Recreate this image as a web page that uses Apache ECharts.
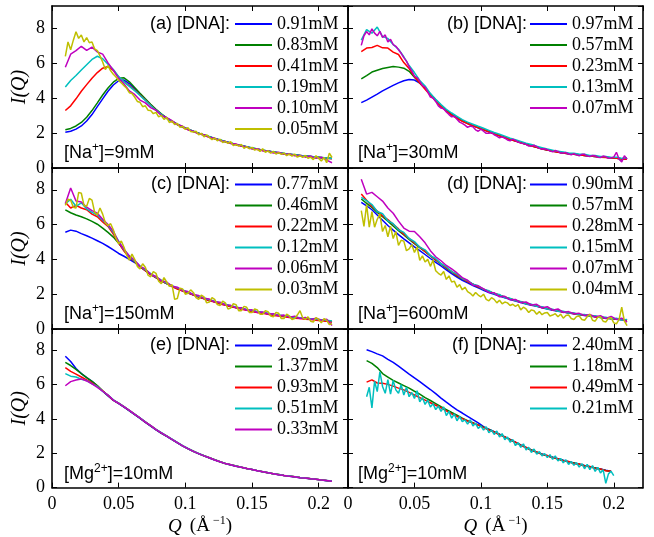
<!DOCTYPE html>
<html><head><meta charset="utf-8">
<script src="https://cdn.jsdelivr.net/npm/echarts@6/dist/echarts.min.js"></script>
<style>html,body{margin:0;padding:0;background:#fff}#c{width:654px;height:537px}</style>
</head><body><div id="c"></div>
<script>
// Q grids (1/Å): coarse grid for smooth curves, fine grid for the noisiest curves
const Q = [0.010,0.014,0.018,0.022,0.026,0.030,0.034,0.038,0.042,0.046,
0.050,0.054,0.058,0.062,0.066,0.070,0.074,0.078,0.082,0.086,
0.090,0.094,0.098,0.102,0.106,0.110,0.114,0.118,0.122,0.126,
0.130,0.134,0.138,0.142,0.146,0.150,0.154,0.158,0.162,0.166,
0.170,0.174,0.178,0.182,0.186,0.190,0.194,0.198,0.202,0.206,0.210];
const Qf = [0.010,0.012,0.014,0.016,0.018,0.020,0.022,0.024,0.026,0.028,
0.030,0.032,0.034,0.036,0.038,0.040,0.042,0.044,0.046,0.048,
0.050,0.052,0.054,0.056,0.058,0.060,0.062,0.064,0.066,0.068,
0.070,0.072,0.074,0.076,0.078,0.080,0.082,0.084,0.086,0.088,
0.090,0.092,0.094,0.096,0.098,0.100,0.102,0.104,0.106,0.108,
0.110,0.112,0.114,0.116,0.118,0.120,0.122,0.124,0.126,0.128,
0.130,0.132,0.134,0.136,0.138,0.140,0.142,0.144,0.146,0.148,
0.150,0.152,0.154,0.156,0.158,0.160,0.162,0.164,0.166,0.168,
0.170,0.172,0.174,0.176,0.178,0.180,0.182,0.184,0.186,0.188,
0.190,0.192,0.194,0.196,0.198,0.200,0.202,0.204,0.206,0.208,0.210];

// ---- panel (a) [Na+]=9mM
const aNames = ['0.91mM','0.83mM','0.41mM','0.19mM','0.10mM','0.05mM'];
const aBlue = [2.04,2.10,2.22,2.40,2.68,3.05,3.50,3.95,4.38,4.74,
4.98,5.02,4.82,4.52,4.20,3.90,3.60,3.32,3.07,2.85,
2.66,2.49,2.34,2.21,2.09,1.98,1.88,1.78,1.68,1.59,
1.50,1.42,1.34,1.27,1.20,1.13,1.07,1.01,0.96,0.91,
0.86,0.82,0.78,0.74,0.71,0.68,0.65,0.62,0.59,0.56,0.54];
const aGreen = [2.19,2.26,2.40,2.60,2.90,3.28,3.72,4.17,4.57,4.90,
5.12,5.15,4.92,4.60,4.27,3.95,3.64,3.35,3.09,2.86,
2.67,2.50,2.35,2.22,2.10,1.99,1.89,1.79,1.69,1.60,
1.51,1.43,1.35,1.28,1.21,1.14,1.08,1.02,0.97,0.92,
0.87,0.83,0.79,0.75,0.72,0.69,0.66,0.63,0.60,0.57,0.55];
const aRed = [3.28,3.55,3.95,4.38,4.76,5.13,5.45,5.70,5.80,5.58,
5.20,4.92,4.70,4.45,4.17,3.88,3.58,3.30,3.05,2.83,
2.64,2.48,2.33,2.20,2.08,1.97,1.87,1.76,1.67,1.58,
1.49,1.41,1.33,1.26,1.19,1.12,1.06,1.00,0.95,0.90,
0.85,0.81,0.77,0.73,0.70,0.67,0.64,0.61,0.58,0.55,0.53];
const aCyan = [4.63,5.00,5.28,5.60,5.90,6.20,6.38,6.24,5.92,5.62,
5.22,4.92,4.66,4.42,4.14,3.86,3.57,3.30,3.06,2.84,
2.66,2.50,2.35,2.22,2.10,1.98,1.88,1.79,1.69,1.60,
1.51,1.43,1.35,1.28,1.21,1.14,1.08,1.02,0.97,0.92,
0.87,0.83,0.79,0.76,0.72,0.69,0.66,0.63,0.60,0.57,0.54];
const aMagenta = [5.75,6.50,6.70,6.95,6.72,6.90,6.62,6.50,6.00,5.58,
5.12,4.80,4.40,4.20,3.88,3.72,3.45,3.30,3.00,2.88,
2.70,2.48,2.38,2.18,2.10,1.95,1.90,1.75,1.70,1.56,
1.52,1.40,1.38,1.25,1.22,1.08,1.10,0.98,0.97,0.86,
0.90,0.78,0.80,0.70,0.72,0.62,0.68,0.55,0.62,0.45,0.30];
const aYellowF = [6.38,7.20,6.75,7.30,7.78,7.40,7.60,7.20,7.45,7.15,
7.20,6.80,6.70,6.40,6.05,5.62,5.85,5.55,5.35,5.20,
5.00,4.85,4.70,4.55,4.30,4.25,4.05,3.80,3.75,3.50,
3.55,3.30,3.28,3.10,3.18,2.92,3.00,2.78,2.88,2.60,
2.68,2.48,2.55,2.32,2.38,2.20,2.30,2.08,2.05,2.10,
1.90,1.98,1.78,1.90,1.75,1.62,1.72,1.55,1.65,1.45,
1.52,1.40,1.50,1.28,1.35,1.25,1.35,1.12,1.22,1.10,
1.18,1.02,1.08,0.95,1.10,0.90,0.98,0.85,0.95,0.80,
0.88,0.78,0.85,0.70,0.80,0.68,0.80,0.62,0.70,0.60,
0.72,0.55,0.62,0.48,0.70,0.55,0.40,0.60,0.30,0.85,0.60];

// ---- panel (b) [Na+]=30mM
const bNames = ['0.97mM','0.57mM','0.23mM','0.13mM','0.07mM'];
const bBlue = [3.73,3.88,4.05,4.22,4.40,4.56,4.72,4.86,4.98,5.05,
5.02,4.85,4.55,4.22,3.88,3.57,3.30,3.07,2.88,2.70,
2.55,2.42,2.30,2.19,2.07,1.96,1.85,1.74,1.64,1.54,
1.45,1.36,1.27,1.18,1.10,1.03,0.97,0.91,0.86,0.82,
0.79,0.76,0.72,0.69,0.66,0.63,0.61,0.58,0.56,0.53,0.51];
const bGreen = [5.09,5.28,5.48,5.58,5.68,5.74,5.79,5.76,5.70,5.52,
5.18,4.85,4.55,4.22,3.88,3.56,3.28,3.05,2.86,2.69,
2.55,2.42,2.31,2.19,2.08,1.96,1.85,1.75,1.64,1.55,
1.45,1.36,1.27,1.19,1.10,1.03,0.97,0.91,0.86,0.82,
0.79,0.76,0.72,0.69,0.66,0.64,0.61,0.58,0.56,0.53,0.51];
const bRed = [6.65,6.85,6.88,7.00,6.86,6.85,6.62,6.48,6.02,5.68,
5.22,4.85,4.50,4.15,3.82,3.52,3.25,3.02,2.84,2.67,
2.53,2.41,2.29,2.18,2.06,1.95,1.84,1.74,1.63,1.54,
1.44,1.35,1.26,1.18,1.09,1.02,0.96,0.90,0.85,0.81,
0.78,0.75,0.71,0.68,0.65,0.62,0.60,0.57,0.55,0.52,0.50];
const bCyan = [7.30,7.90,7.70,8.05,7.50,7.40,7.05,6.78,6.35,5.85,
5.45,5.00,4.68,4.25,3.92,3.62,3.35,3.14,2.95,2.76,
2.62,2.50,2.38,2.27,2.15,2.03,1.93,1.82,1.70,1.62,
1.52,1.42,1.34,1.24,1.16,1.08,1.02,0.95,0.92,0.86,
0.84,0.79,0.78,0.72,0.71,0.66,0.66,0.60,0.62,0.55,0.58];
const bMagentaF = [7.00,7.55,7.79,7.60,7.95,7.70,7.55,7.80,7.45,7.60,
7.20,7.35,7.05,6.95,6.75,6.55,6.30,6.10,5.78,5.55,
5.25,5.15,4.95,4.70,4.62,4.35,4.05,4.00,3.80,3.55,
3.42,3.38,3.20,3.05,2.92,2.95,2.78,2.62,2.55,2.45,
2.32,2.40,2.35,2.18,2.10,2.22,2.10,1.98,1.98,2.02,
1.90,1.82,1.72,1.78,1.70,1.60,1.55,1.65,1.58,1.48,
1.42,1.40,1.35,1.25,1.25,1.30,1.22,1.12,1.08,1.10,
1.05,0.98,0.92,1.00,0.95,0.85,0.85,0.88,0.80,0.76,
0.82,0.75,0.70,0.78,0.78,0.68,0.66,0.72,0.70,0.62,
0.60,0.68,0.65,0.55,0.58,0.62,0.90,0.50,0.35,0.70,0.50];

// ---- panel (c) [Na+]=150mM
const cNames = ['0.77mM','0.46mM','0.22mM','0.12mM','0.06mM','0.03mM'];
const cBlue = [5.56,5.68,5.62,5.48,5.36,5.22,5.07,4.92,4.74,4.55,
4.34,4.18,4.00,3.82,3.58,3.36,3.14,2.95,2.77,2.61,
2.46,2.32,2.20,2.08,1.96,1.85,1.75,1.65,1.56,1.47,
1.39,1.31,1.24,1.17,1.10,1.04,0.98,0.93,0.88,0.83,
0.78,0.74,0.70,0.66,0.63,0.60,0.57,0.54,0.51,0.47,0.42];
const cGreen = [6.84,6.68,6.55,6.45,6.33,6.18,6.02,5.80,5.55,5.28,
4.92,4.52,4.15,3.86,3.60,3.37,3.15,2.95,2.77,2.61,
2.46,2.32,2.20,2.08,1.96,1.85,1.75,1.65,1.56,1.47,
1.39,1.31,1.24,1.17,1.10,1.04,0.98,0.93,0.88,0.83,
0.78,0.74,0.70,0.66,0.63,0.60,0.57,0.54,0.51,0.47,0.43];
const cRed = [7.28,6.95,7.10,6.95,6.85,6.60,6.45,6.15,5.90,5.45,
4.95,4.48,4.10,3.88,3.58,3.35,3.12,2.95,2.74,2.62,
2.44,2.30,2.18,2.06,1.95,1.83,1.74,1.62,1.55,1.44,
1.37,1.28,1.22,1.14,1.08,1.00,0.95,0.90,0.84,0.78,
0.74,0.70,0.66,0.62,0.60,0.56,0.54,0.50,0.48,0.45,0.40];
const cCyan = [7.20,7.45,7.05,7.25,6.90,6.70,6.55,6.25,5.95,5.55,
5.05,4.55,4.18,3.90,3.62,3.40,3.18,2.98,2.80,2.64,
2.49,2.36,2.24,2.11,1.99,1.88,1.78,1.68,1.59,1.50,
1.42,1.34,1.26,1.19,1.12,1.06,1.00,0.95,0.90,0.85,
0.80,0.76,0.72,0.68,0.65,0.62,0.59,0.56,0.53,0.50,0.46];
const cMagenta = [7.20,8.10,7.35,7.30,7.00,6.80,6.65,6.30,6.00,5.62,
5.00,4.58,4.20,3.95,3.60,3.45,3.15,3.02,2.78,2.70,
2.46,2.40,2.20,2.15,1.98,1.92,1.76,1.72,1.56,1.54,
1.38,1.36,1.22,1.22,1.08,1.10,0.95,0.98,0.86,0.88,
0.76,0.80,0.68,0.74,0.60,0.66,0.55,0.62,0.50,0.56,0.20];
const cYellowF = [7.10,7.45,7.40,7.00,6.95,7.85,7.80,7.10,7.05,7.50,
7.40,6.70,6.55,6.95,6.60,6.10,5.95,6.05,5.70,5.20,
4.90,5.05,4.70,4.25,3.95,4.30,4.00,3.60,3.45,3.75,
3.55,3.10,3.00,3.30,3.20,2.75,2.60,2.95,2.70,2.45,
2.55,1.70,1.75,2.35,2.30,2.00,2.05,2.25,2.10,1.80,
1.70,1.95,1.85,1.50,1.55,1.80,1.70,1.40,1.35,1.60,
1.50,1.15,1.20,1.45,1.40,1.05,1.05,1.30,1.25,0.95,
0.95,1.15,1.10,0.85,0.85,1.05,1.00,0.75,0.70,0.95,
0.90,0.60,0.60,0.85,0.75,0.55,0.60,0.80,1.05,0.65,
0.55,0.70,0.45,0.40,0.65,0.55,0.35,0.60,0.50,0.25,0.30];

// ---- panel (d) [Na+]=600mM
const dNames = ['0.90mM','0.57mM','0.28mM','0.15mM','0.07mM','0.04mM'];
const dBlue = [7.28,7.08,6.85,6.55,6.25,5.95,5.68,5.42,5.18,4.95,
4.72,4.50,4.28,4.05,3.83,3.62,3.40,3.18,2.98,2.80,
2.65,2.50,2.36,2.23,2.10,2.00,1.90,1.80,1.70,1.61,
1.52,1.44,1.37,1.30,1.22,1.15,1.08,1.02,0.97,0.92,
0.87,0.82,0.78,0.74,0.70,0.66,0.62,0.59,0.56,0.53,0.51];
const dGreen = [7.47,7.22,6.98,6.70,6.45,6.20,5.92,5.65,5.40,5.15,
4.90,4.67,4.44,4.20,3.96,3.74,3.50,3.28,3.06,2.88,
2.72,2.57,2.42,2.28,2.15,2.04,1.94,1.84,1.74,1.65,
1.56,1.48,1.40,1.33,1.25,1.18,1.11,1.05,0.99,0.94,
0.89,0.84,0.80,0.76,0.72,0.68,0.64,0.61,0.58,0.55,0.52];
const dRed = [7.75,7.40,7.05,6.78,6.50,6.28,6.02,5.75,5.45,5.20,
4.95,4.70,4.46,4.22,3.98,3.76,3.52,3.30,3.08,2.90,
2.73,2.58,2.43,2.29,2.16,2.05,1.94,1.83,1.73,1.64,
1.55,1.47,1.39,1.32,1.24,1.17,1.10,1.04,0.98,0.93,
0.88,0.83,0.79,0.75,0.71,0.67,0.63,0.60,0.57,0.54,0.50];
const dCyan = [7.56,7.38,7.15,6.75,6.62,6.22,6.05,5.70,5.55,5.20,
5.02,4.70,4.55,4.22,4.05,3.75,3.58,3.30,3.15,2.90,
2.78,2.58,2.48,2.28,2.20,2.02,1.98,1.80,1.76,1.62,
1.58,1.44,1.42,1.30,1.28,1.15,1.14,1.02,1.02,0.92,
0.92,0.82,0.84,0.74,0.76,0.66,0.68,0.58,0.62,0.52,0.55];
const dMagenta = [8.60,7.75,7.85,7.60,7.35,6.95,6.65,6.20,5.80,5.62,
5.60,5.30,4.95,4.50,4.15,3.92,3.65,3.45,3.22,2.95,
2.80,2.52,2.48,2.30,2.10,2.08,1.85,1.88,1.68,1.70,
1.52,1.55,1.38,1.42,1.22,1.28,1.08,1.15,0.95,1.00,
0.88,0.90,0.78,0.84,0.70,0.76,0.60,0.72,0.55,0.62,0.40];
const dYellowF = [6.80,5.90,7.15,5.85,6.75,5.85,6.30,6.60,5.60,5.95,
5.30,5.90,5.20,5.60,4.80,5.10,5.05,4.50,4.60,4.85,
4.40,4.70,3.95,4.20,3.85,4.00,3.60,3.95,3.35,3.20,
3.10,3.30,2.85,3.05,2.70,2.75,2.40,2.55,2.25,2.40,
2.15,2.05,1.90,2.10,1.95,1.85,2.00,1.70,1.62,1.80,
1.70,1.50,1.65,1.45,1.55,1.50,1.35,1.42,1.30,1.40,
1.10,1.25,1.15,0.95,1.10,1.05,0.85,1.00,0.82,0.92,
0.95,0.75,0.80,0.88,0.70,0.85,0.62,0.78,0.80,0.60,
0.55,0.72,0.75,0.55,0.50,0.70,0.85,0.50,0.45,0.68,
0.70,0.45,0.40,0.62,0.65,0.35,0.30,0.55,1.25,0.45,0.20];

// ---- panel (e) [Mg2+]=10mM
const eNames = ['2.09mM','1.37mM','0.93mM','0.51mM','0.33mM'];
const eBlue = [7.66,7.35,6.95,6.65,6.42,6.20,5.92,5.62,5.35,5.09,
4.90,4.70,4.48,4.26,4.04,3.81,3.59,3.37,3.17,2.99,
2.80,2.61,2.42,2.26,2.11,1.97,1.85,1.73,1.61,1.50,
1.40,1.32,1.25,1.18,1.11,1.05,0.98,0.92,0.86,0.80,
0.75,0.70,0.66,0.62,0.58,0.55,0.51,0.48,0.44,0.40,0.37];
const eGreen = [7.30,7.12,6.90,6.65,6.42,6.20,5.95,5.65,5.37,5.10,
4.91,4.71,4.49,4.27,4.05,3.82,3.60,3.38,3.18,3.00,
2.81,2.62,2.43,2.27,2.12,1.98,1.86,1.74,1.62,1.51,
1.41,1.33,1.26,1.19,1.12,1.06,0.99,0.93,0.87,0.81,
0.76,0.71,0.67,0.63,0.59,0.56,0.52,0.49,0.45,0.41,0.38];
const eRed = [7.00,6.78,6.62,6.45,6.28,6.10,5.90,5.65,5.38,5.10,
4.92,4.72,4.50,4.28,4.06,3.83,3.61,3.39,3.19,3.01,
2.81,2.62,2.43,2.27,2.12,1.98,1.86,1.74,1.62,1.51,
1.41,1.33,1.26,1.19,1.12,1.05,0.99,0.93,0.87,0.81,
0.76,0.71,0.67,0.63,0.59,0.56,0.52,0.49,0.45,0.41,0.38];
const eCyan = [6.65,6.50,6.45,6.32,6.24,6.05,5.90,5.62,5.40,5.12,
4.93,4.72,4.51,4.29,4.07,3.84,3.62,3.40,3.20,3.01,
2.82,2.63,2.44,2.28,2.12,1.99,1.86,1.74,1.62,1.51,
1.41,1.33,1.26,1.19,1.12,1.06,0.99,0.93,0.87,0.81,
0.76,0.71,0.67,0.63,0.59,0.56,0.52,0.49,0.45,0.42,0.38];
const eMagenta = [5.94,6.18,6.28,6.34,6.22,6.05,5.85,5.62,5.40,5.10,
4.91,4.71,4.50,4.27,4.06,3.82,3.61,3.38,3.19,3.00,
2.81,2.62,2.43,2.27,2.11,1.98,1.85,1.74,1.61,1.51,
1.40,1.33,1.25,1.19,1.11,1.06,0.98,0.93,0.86,0.81,
0.75,0.71,0.66,0.63,0.58,0.56,0.51,0.49,0.44,0.41,0.37];

// ---- panel (f) [Mg2+]=10mM
const fNames = ['2.40mM','1.18mM','0.49mM','0.21mM'];
const fBlue = [null,8.04,7.93,7.80,7.68,7.48,7.30,7.08,6.85,6.62,
6.40,6.18,5.95,5.72,5.48,5.22,4.98,4.75,4.53,4.35,
4.15,3.97,3.78,3.56,3.40,3.26,3.11,2.96,2.81,2.65,
2.49,2.34,2.20,2.07,1.96,1.86,1.77,1.68,1.59,1.51,
1.44,1.37,1.29,1.22,1.15,1.08,1.01,0.95,null,null,null];
const fGreen = [null,7.41,7.25,7.00,6.65,6.45,6.25,6.10,5.95,5.80,
5.62,5.45,5.25,5.08,4.90,4.72,4.55,4.38,4.22,4.05,
3.90,3.78,3.65,3.52,3.39,3.25,3.10,2.95,2.80,2.64,
2.48,2.33,2.19,2.06,1.95,1.85,1.76,1.67,1.58,1.50,
1.43,1.36,1.28,1.21,1.14,1.07,1.00,0.94,null,null,null];
const fRed = [null,6.15,6.28,6.10,6.08,6.02,5.92,5.80,5.70,5.55,
5.40,5.25,5.10,4.95,4.80,4.65,4.48,4.30,4.15,4.02,
3.88,3.76,3.64,3.50,3.36,3.24,3.08,2.96,2.78,2.65,
2.46,2.35,2.17,2.08,1.93,1.87,1.74,1.69,1.56,1.52,
1.41,1.38,1.26,1.23,1.12,1.09,0.98,0.95,null,null,null];
const fCyanF = [null,null,5.30,5.85,4.65,6.20,5.60,6.75,5.90,5.50,
6.30,5.45,6.25,5.70,5.50,6.00,5.40,5.85,5.30,5.55,
5.20,5.65,5.00,5.25,4.85,5.10,4.70,4.90,4.55,4.75,
4.45,4.70,4.20,4.45,4.05,4.30,3.90,4.15,3.85,3.95,
3.70,3.95,3.60,3.75,3.45,3.60,3.35,3.55,3.20,3.35,
3.10,3.30,2.95,3.15,2.80,2.95,2.65,2.80,2.45,2.62,
2.35,2.55,2.20,2.35,2.05,2.25,1.95,2.10,1.85,1.98,
1.75,1.92,1.65,1.85,1.55,1.70,1.45,1.62,1.35,1.52,
1.30,1.45,1.20,1.40,1.10,1.35,1.05,1.28,0.95,1.18,
0.85,1.05,0.25,0.80,0.95,0.70,null,null,null,null,null];

const panelTitles = ['(a) [DNA]:','(b) [DNA]:','(c) [DNA]:','(d) [DNA]:','(e) [DNA]:','(f) [DNA]:'];
const panelNotes = [['Na','+','9mM'],['Na','+','30mM'],['Na','+','150mM'],['Na','+','600mM'],['Mg','2+','10mM'],['Mg','2+','10mM']];

const COLORS = ['#0000ff','#008000','#ff0000','#00bfbf','#bf00bf','#bfbf00'];
const SERIF = '"Liberation Serif","Times New Roman",serif';
const SANS = '"Liberation Sans",Arial,sans-serif';

const panels = [
  {names:aNames, data:[[Q,aBlue],[Q,aGreen],[Q,aRed],[Q,aCyan],[Q,aMagenta],[Qf,aYellowF]]},
  {names:bNames, data:[[Q,bBlue],[Q,bGreen],[Q,bRed],[Q,bCyan],[Qf,bMagentaF]]},
  {names:cNames, data:[[Q,cBlue],[Q,cGreen],[Q,cRed],[Q,cCyan],[Q,cMagenta],[Qf,cYellowF]]},
  {names:dNames, data:[[Q,dBlue],[Q,dGreen],[Q,dRed],[Q,dCyan],[Q,dMagenta],[Qf,dYellowF]]},
  {names:eNames, data:[[Q,eBlue],[Q,eGreen],[Q,eRed],[Q,eCyan],[Q,eMagenta]]},
  {names:fNames, data:[[Q,fBlue],[Q,fGreen],[Q,fRed],[Qf,fCyanF]]}
];

const grids = [
  {left:52, top:6, width:296, height:162},
  {left:348, top:6, width:295, height:162},
  {left:52, top:168, width:296, height:161},
  {left:348, top:168, width:295, height:161},
  {left:52, top:329, width:296, height:160},
  {left:348, top:329, width:295, height:160}
];
const rowCenter = [24, 184.5, 345.5];
const noteY = [153, 314, 474];

const axisLine = {show:true, onZero:false, lineStyle:{color:'#000', width:1.6}};
const axisTick = {show:true, inside:true, length:5, lineStyle:{color:'#000', width:1}};

const xAxes = [], yAxes = [], series = [], legends = [], graphics = [];
grids.forEach((g, gi) => {
  const bottomRow = gi >= 4, leftCol = gi % 2 === 0, row = Math.floor(gi/2);
  const xBase = {gridIndex:gi, type:'value', min:0, max:0.222, interval:0.05,
    axisLine, axisTick, splitLine:{show:false}};
  xAxes.push(Object.assign({}, xBase, {position:'bottom',
    axisLabel:{show:bottomRow, showMaxLabel:false, fontFamily:SERIF, fontSize:18, color:'#000', margin:8,
      formatter: v => String(+v.toFixed(3))},
    name: bottomRow ? '{i|Q} {n| (Å}{s| −1}{n|)}' : '',
    nameLocation:'middle', nameGap:24,
    nameTextStyle:{rich:{
      i:{fontFamily:SERIF, fontStyle:'italic', fontSize:19, color:'#000', lineHeight:24},
      n:{fontFamily:SERIF, fontSize:19, color:'#000', lineHeight:24},
      s:{fontFamily:SERIF, fontSize:12, color:'#000', lineHeight:12, verticalAlign:'top'}}}
  }));
  xAxes.push(Object.assign({}, xBase, {position:'top', axisLabel:{show:false}}));
  const yBase = {gridIndex:gi, type:'value', min:0, max:9.25, interval:2,
    axisLine, axisTick, splitLine:{show:false}};
  yAxes.push(Object.assign({}, yBase, {position:'left',
    axisLabel:{show:leftCol, showMaxLabel:false, fontFamily:SERIF, fontSize:18, color:'#000', margin:7},
    name: leftCol ? 'I(Q)' : '', nameLocation:'middle', nameGap:22, nameRotate:90,
    nameTextStyle:{fontFamily:SERIF, fontStyle:'italic', fontSize:20, color:'#000'}}));
  yAxes.push(Object.assign({}, yBase, {position:'right', axisLabel:{show:false}}));

  const p = panels[gi];
  p.data.forEach((pair, si) => {
    const qs = pair[0], arr = pair[1];
    series.push({type:'line', name:p.names[si], xAxisIndex:2*gi, yAxisIndex:2*gi,
      data: qs.map((q,i) => [q, arr[i]]), symbol:'none', showSymbol:false, clip:true,
      lineStyle:{color:COLORS[si], width:1.5}, itemStyle:{color:COLORS[si]}, z:2+si});
  });

  const legX = leftCol ? 235 : 530;
  legends.push({data:p.names, orient:'vertical', left:legX, top:rowCenter[row]-10.5,
    itemWidth:37, itemHeight:2, icon:'rect', itemGap:0, padding:0, selectedMode:false,
    textStyle:{fontFamily:SERIF, fontSize:18, lineHeight:21, color:'#000'}});

  graphics.push({type:'text', x: leftCol ? 230 : 527, y: rowCenter[row], z:10,
    style:{text:panelTitles[gi], font:'18px ' + SANS, fill:'#000', align:'right', verticalAlign:'middle'}});
  const n = panelNotes[gi];
  graphics.push({type:'text', x: leftCol ? 64 : 358, y: noteY[row], z:10,
    style:{text:'{a|[' + n[0] + '}{b|' + n[1] + '}{a|]=' + n[2] + '}', verticalAlign:'middle', align:'left',
      rich:{a:{fontFamily:SANS, fontSize:18, lineHeight:22, fill:'#000'},
            b:{fontFamily:SANS, fontSize:12, lineHeight:12, verticalAlign:'top', fill:'#000'}}}});
});

const chart = echarts.init(document.getElementById('c'), null, {renderer:'canvas'});
chart.setOption({
  animation:false,
  backgroundColor:'#fff',
  grid:grids,
  xAxis:xAxes,
  yAxis:yAxes,
  legend:legends,
  graphic:graphics,
  series:series
});
</script>
</body></html>
